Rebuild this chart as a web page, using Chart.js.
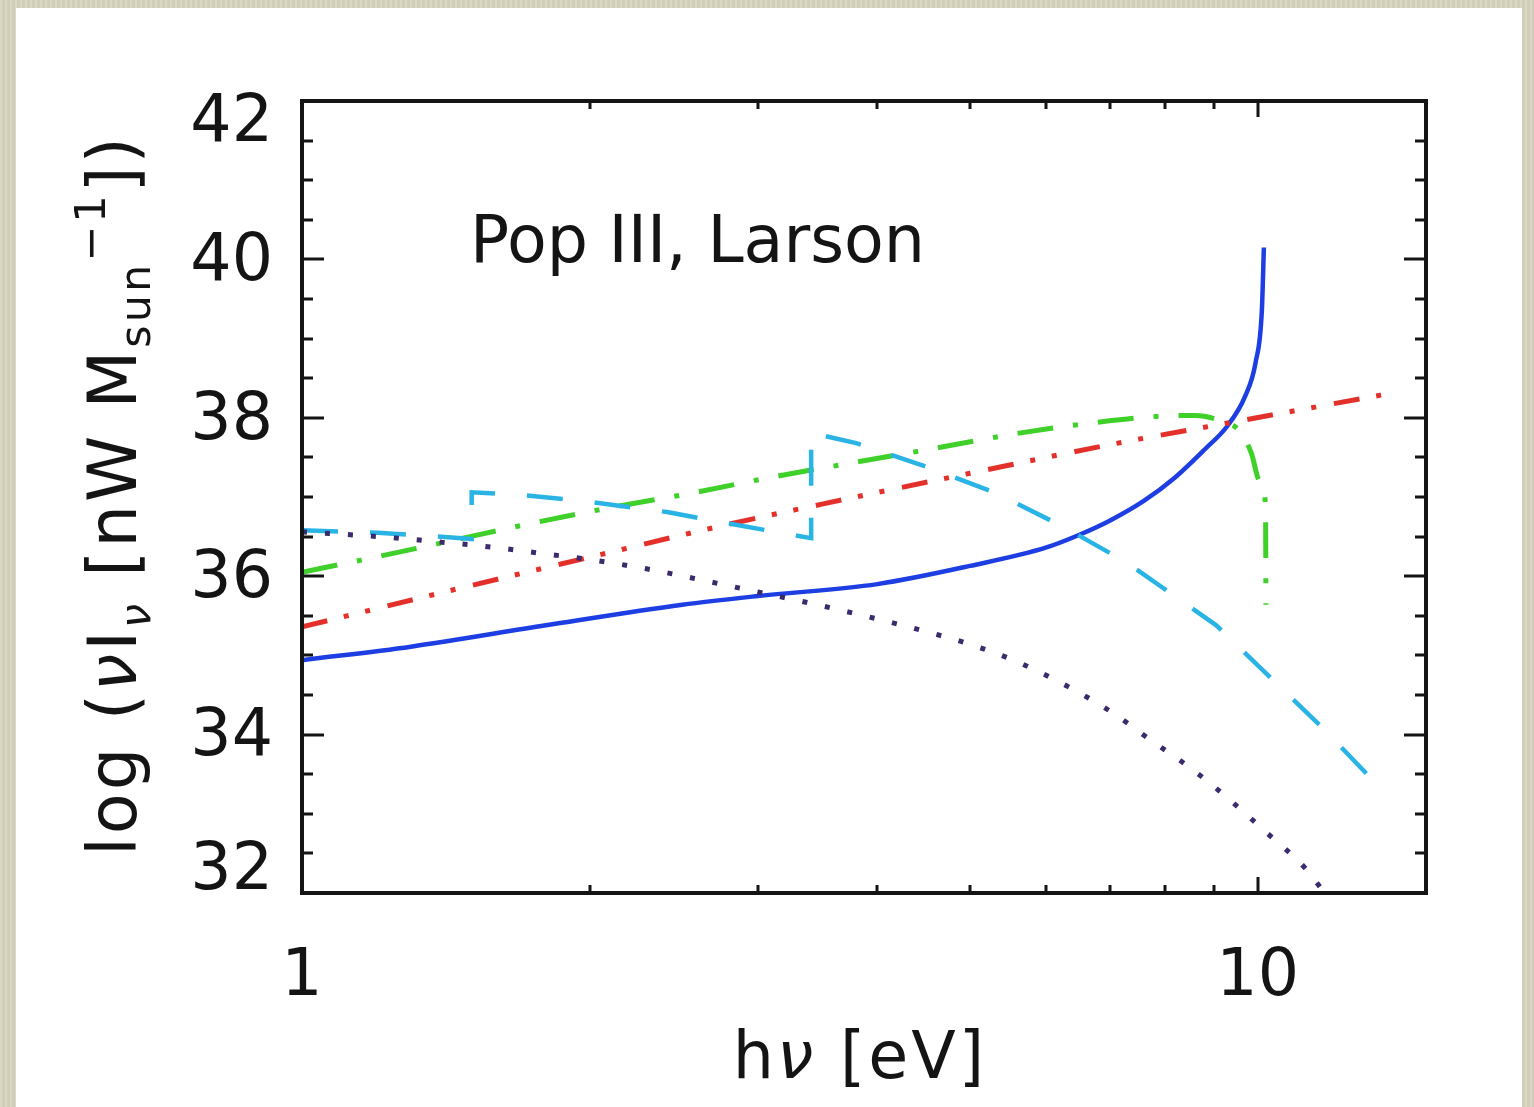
<!DOCTYPE html>
<html>
<head>
<meta charset="utf-8">
<script src="https://cdn.jsdelivr.net/npm/chart.js@4.4.1/dist/chart.umd.min.js"></script>
<style>
  html, body { margin: 0; padding: 0; }
  body {
    width: 1534px; height: 1107px; position: relative; overflow: hidden;
    background-color: #d7d5bf;
    background-image: repeating-linear-gradient(90deg, rgba(255,255,255,0.07) 0 2px, rgba(90,85,50,0.05) 2px 5px);
  }
  #panel { position: absolute; left: 16px; top: 8px; width: 1506px; height: 1099px; background: #fff; }
  #wrap { position: absolute; left: 0; top: 0; width: 1534px; height: 1107px; }
</style>
</head>
<body>
<div id="panel"></div>
<div id="wrap"><canvas id="c" width="1534" height="1107"></canvas></div>
<script>
// Photon energy h-nu [eV] and log(nu I_nu) [nW M_sun^-1] for each spectral component
const blueEnergy  = [1.0, 1.3, 1.8, 2.5, 3.0, 4.0, 5.0, 6.0, 6.5, 7.0, 7.6, 8.2, 8.8, 9.3, 9.7, 9.95, 10.1, 10.15];
const blueLum     = [34.94, 35.11, 35.38, 35.64, 35.75, 35.90, 36.13, 36.36, 36.52, 36.70, 36.95, 37.25, 37.60, 37.90, 38.27, 38.70, 39.35, 40.15];

const redEnergy   = [1.0, 1.5, 2.0, 2.78, 3.5, 5.0, 7.0, 9.36, 13.5];
const redLum      = [35.36, 35.88, 36.24, 36.65, 36.91, 37.30, 37.66, 37.94, 38.29];

const greenEnergy = [1.0, 1.15, 1.40, 1.71, 2.09, 2.56, 3.10, 3.80, 4.62, 5.65, 6.87, 7.9, 8.6, 9.15, 9.6, 9.85, 10.05, 10.19, 10.2];
const greenLum    = [36.05, 36.20, 36.42, 36.65, 36.86, 37.05, 37.25, 37.44, 37.62, 37.81, 37.95, 38.02, 38.03, 37.96, 37.82, 37.55, 37.20, 36.90, 35.64];

const cyanEnergy  = [1.0, 1.2, 1.47, 1.505, 1.505, 1.68, 2.0, 2.41, 2.78, 3.41, 3.41, 3.80, 4.51, 5.32, 6.27, 7.30, 9.05, 11.66, 13.35];
const cyanLum     = [36.58, 36.55, 36.48, 36.47, 37.06, 37.03, 36.94, 36.81, 36.67, 36.48, 37.81, 37.68, 37.38, 37.05, 36.62, 36.17, 35.38, 34.10, 33.36];

const purpleEnergy = [1.0, 1.2, 1.4, 1.6, 1.8, 2.0, 2.3, 2.6, 3.0, 3.4, 4.0, 4.5, 5.0, 5.6, 6.3, 7.0, 7.75, 8.5, 9.3, 10.2, 11.2, 11.75];
const purpleLum    = [36.56, 36.50, 36.43, 36.36, 36.28, 36.21, 36.09, 35.96, 35.80, 35.66, 35.46, 35.30, 35.14, 34.92, 34.62, 34.30, 33.92, 33.58, 33.20, 32.77, 32.32, 32.0];

// Axis ranges and labelled ticks
const xRange = [1, 15];
const yRange = [32, 42];
const xLabelTicks = [1, 10];
const xMinorTicks = [2, 3, 4, 5, 6, 7, 8, 9];
const yStep = 2;
const yMinorStep = 0.5;

const panelLabel = 'Pop III, Larson';
const FONT = "'DejaVu Sans'";
const INK = '#141414';

const pairs = (xs, ys) => xs.map((v, i) => ({ x: v, y: ys[i] }));

const datasets = [
  { data: pairs(purpleEnergy, purpleLum), borderColor: '#3b2a6c', borderWidth: 5, borderDash: [5, 18], cubicInterpolationMode: 'monotone' },
  { data: pairs(cyanEnergy, cyanLum), borderColor: '#2ab4e6', borderWidth: 4.5, borderDash: [36, 32], tension: 0 },
  { data: pairs(redEnergy, redLum), borderColor: '#e4302a', borderWidth: 5, borderDash: [26, 17, 5, 17, 5, 18], cubicInterpolationMode: 'monotone' },
  { data: pairs(greenEnergy, greenLum), borderColor: '#3fd02a', borderWidth: 5, borderDash: [36, 20, 5, 20], cubicInterpolationMode: 'monotone' },
  { data: pairs(blueEnergy, blueLum), borderColor: '#1c3ee2', borderWidth: 4.5, cubicInterpolationMode: 'monotone' }
].map(d => Object.assign({ pointRadius: 0, fill: false, borderCapStyle: 'butt' }, d));

// Draws a run of text pieces (font, size, baseline shift) starting at x
function drawRun(ctx, parts, x, y, spacing) {
  ctx.letterSpacing = spacing + 'px';
  for (const p of parts) {
    ctx.font = `${p.f || ''}${p.s}px ${FONT}`;
    ctx.fillText(p.t, x, y + (p.dy || 0));
    x += ctx.measureText(p.t).width;
  }
}
function runWidth(ctx, parts, spacing) {
  ctx.letterSpacing = spacing + 'px';
  let w = 0;
  for (const p of parts) { ctx.font = `${p.f || ''}${p.s}px ${FONT}`; w += ctx.measureText(p.t).width; }
  return w;
}

// Frame, inward ticks on all four sides, tick labels, axis titles and the panel label
const framePlugin = {
  id: 'frame',
  afterDraw(chart) {
    const { ctx, chartArea: a, scales } = chart;
    const sx = scales.x, sy = scales.y;
    ctx.save();
    ctx.strokeStyle = INK;
    ctx.lineCap = 'butt';

    ctx.lineWidth = 3;
    ctx.beginPath();
    for (let v = yRange[0]; v <= yRange[1] + 1e-9; v += yMinorStep) {
      const py = Math.round(sy.getPixelForValue(v));
      const major = Math.abs(v / yStep - Math.round(v / yStep)) < 1e-6;
      const len = major ? 22 : 11;
      ctx.moveTo(a.left, py); ctx.lineTo(a.left + len, py);
      ctx.moveTo(a.right, py); ctx.lineTo(a.right - len, py);
    }
    const xTicks = xLabelTicks.map(v => [v, 16]).concat(xMinorTicks.map(v => [v, 8]));
    for (const [v, len] of xTicks) {
      const px = Math.round(sx.getPixelForValue(v));
      ctx.moveTo(px, a.bottom); ctx.lineTo(px, a.bottom - len);
      ctx.moveTo(px, a.top); ctx.lineTo(px, a.top + len);
    }
    ctx.stroke();

    ctx.lineWidth = 4;
    ctx.strokeRect(a.left, a.top, a.right - a.left, a.bottom - a.top);

    ctx.fillStyle = INK;

    // y tick labels; the two end labels sit inside the axis span
    ctx.font = `65px ${FONT}`;
    ctx.textAlign = 'right';
    ctx.textBaseline = 'middle';
    for (const t of sy.ticks) {
      const py = sy.getPixelForValue(t.value);
      let off = 4;
      if (t.value === yRange[1]) off = 23;
      if (t.value === yRange[0]) off = -21;
      ctx.fillText(String(t.value), a.left - 29, py + off);
    }

    ctx.textAlign = 'left';
    ctx.textBaseline = 'alphabetic';

    // panel label
    ctx.font = `65px ${FONT}`;
    ctx.fillText(panelLabel, 470, 262);

    // x-axis title: h nu [eV]
    const xParts = [
      { t: 'h', s: 65 },
      { t: 'ν', f: 'italic ', s: 65 },
      { t: ' [eV]', s: 65 }
    ];
    const xw = runWidth(ctx, xParts, 3);
    drawRun(ctx, xParts, (a.left + a.right) / 2 - xw / 2 - 4, 1078, 3);

    // y-axis title: log (nu I_nu [nW M_sun^-1])
    const yParts = [
      { t: 'log (', s: 67 },
      { t: 'ν', f: 'italic ', s: 67 },
      { t: 'I', s: 67 },
      { t: 'ν', f: 'italic ', s: 43, dy: 14 },
      { t: ' [nW M', s: 67 },
      { t: 'sun', s: 43, dy: 14 },
      { t: '−1', s: 43, dy: -31 },
      { t: '])', s: 67 }
    ];
    const yw = runWidth(ctx, yParts, 3);
    ctx.translate(136, 495);
    ctx.rotate(-Math.PI / 2);
    drawRun(ctx, yParts, -yw / 2, 0, 3);
    ctx.restore();
  }
};

new Chart(document.getElementById('c'), {
  type: 'line',
  data: { datasets },
  options: {
    responsive: false,
    animation: false,
    devicePixelRatio: 1,
    layout: { padding: { left: 0, top: 101, right: 108, bottom: 0 } },
    plugins: { legend: { display: false }, tooltip: { enabled: false }, title: { display: false } },
    scales: {
      x: {
        type: 'logarithmic',
        min: xRange[0], max: xRange[1],
        grid: { display: false },
        border: { display: false },
        afterBuildTicks: s => { s.ticks = xLabelTicks.map(v => ({ value: v, major: true })); },
        afterFit: s => { s.height = 214; },
        ticks: {
          color: INK, padding: 38, maxRotation: 0, autoSkip: false,
          font: { family: 'DejaVu Sans', size: 65 },
          callback: v => String(v)
        }
      },
      y: {
        type: 'linear',
        min: yRange[0], max: yRange[1],
        grid: { display: false },
        border: { display: false },
        afterFit: s => { s.width = 302; },
        ticks: { stepSize: yStep, display: false }
      }
    }
  },
  plugins: [framePlugin]
});
</script>
</body>
</html>
